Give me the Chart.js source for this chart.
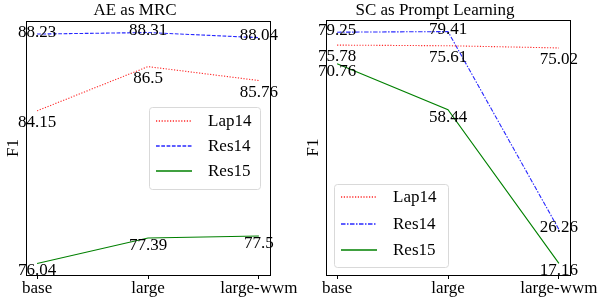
<!DOCTYPE html>
<html>
<head>
<meta charset="utf-8">
<script src="https://cdn.jsdelivr.net/npm/chart.js@4.4.0/dist/chart.umd.min.js"></script>
<style>
  body { margin: 0; background: #fff; }
  .wrap { display: flex; width: 601px; height: 302px; }
  .cell { position: relative; height: 302px; }
</style>
</head>
<body>
<div class="wrap">
  <div class="cell" style="width:300px"><canvas id="left"></canvas></div>
  <div class="cell" style="width:301px"><canvas id="right"></canvas></div>
</div>
<script>
"use strict";

const categories = ['base', 'large', 'large-wwm'];
const seriesNames = ['Lap14', 'Res14', 'Res15'];

// AE as MRC
const aeLap14 = [84.15, 86.5, 85.76];
const aeRes14 = [88.23, 88.31, 88.04];
const aeRes15 = [76.04, 77.39, 77.5];

// SC as Prompt Learning
const scLap14 = [75.78, 75.61, 75.02];
const scRes14 = [79.25, 79.41, 26.26];
const scRes15 = [70.76, 58.44, 17.16];

const FONT = '"Liberation Serif", "DejaVu Serif", serif';
const seriesColors = ['rgb(255,40,40)', 'rgb(40,40,255)', 'rgb(0,128,0)'];

// vertical pixel shift of the value labels, one per series
const labelShift = [11.5, -2, 7.5];

// line dashes per chart (Res14 is dashed on the left, dash-dot on the right)
const dashSets = {
    left: [[1.2, 1.6], [3.7, 1.6], []],
    right: [[1.2, 1.6], [4.5, 1.5, 1.5, 1.5], []]
};

const valueLabels = {
    id: 'valueLabels',
    afterDatasetsDraw(chart) {
        const ctx = chart.ctx;
        ctx.save();
        ctx.font = '17px ' + FONT;
        ctx.fillStyle = '#000';
        ctx.textAlign = 'center';
        ctx.textBaseline = 'middle';
        chart.data.datasets.forEach((ds, i) => {
            const meta = chart.getDatasetMeta(i);
            meta.data.forEach((pt, j) => {
                ctx.fillText(String(ds.data[j].y), pt.x, pt.y + labelShift[i]);
            });
        });
        ctx.restore();
    }
};

const frame = {
    id: 'frame',
    afterDraw(chart) {
        const a = chart.chartArea;
        const ctx = chart.ctx;
        ctx.save();
        ctx.strokeStyle = '#000';
        ctx.lineWidth = 1;
        ctx.strokeRect(Math.round(a.left) + 0.5, Math.round(a.top) + 0.5,
            Math.round(a.right - a.left), Math.round(a.bottom - a.top));
        ctx.restore();
    }
};

// matplotlib style legend box, drawn at a given spot in the chart area
const boxLegend = {
    id: 'boxLegend',
    afterDraw(chart, args, opts) {
        const ctx = chart.ctx;
        const a = chart.chartArea;
        const dashes = dashSets[chart.canvas.id];
        const x = Math.round(a.left + opts.x), y = Math.round(a.top + opts.y);
        const w = opts.w, h = opts.h;
        ctx.save();
        ctx.fillStyle = 'rgba(255,255,255,0.8)';
        ctx.strokeStyle = '#d9d9d9';
        ctx.lineWidth = 1;
        ctx.beginPath();
        ctx.roundRect(x + 0.5, y + 0.5, w, h, 3);
        ctx.fill();
        ctx.stroke();
        ctx.font = '17px ' + FONT;
        ctx.textBaseline = 'middle';
        chart.data.datasets.forEach((ds, i) => {
            const ly = Math.round(y + opts.first + i * opts.step);
            ctx.strokeStyle = seriesColors[i];
            ctx.lineWidth = 1.4;
            ctx.setLineDash(dashes[i]);
            ctx.beginPath();
            ctx.moveTo(x + 7, ly);
            ctx.lineTo(x + 43, ly);
            ctx.stroke();
            ctx.setLineDash([]);
            ctx.fillStyle = '#000';
            ctx.fillText(ds.label, x + 59, ly + 1);
        });
        ctx.restore();
    }
};

function makeChart(id, title, values, yMin, yMax, legend, padding) {
    const dashes = dashSets[id];
    new Chart(document.getElementById(id), {
        type: 'line',
        data: {
            datasets: values.map((vals, i) => ({
                label: seriesNames[i],
                data: vals.map((v, j) => ({ x: j, y: v })),
                borderColor: seriesColors[i],
                borderDash: dashes[i],
                borderWidth: 1.1,
                pointRadius: 0,
                fill: false,
                tension: 0
            }))
        },
        options: {
            responsive: true,
            maintainAspectRatio: false,
            animation: false,
            layout: { padding: padding },
            plugins: {
                legend: { display: false },
                tooltip: { enabled: false },
                title: {
                    display: true,
                    text: title,
                    color: '#000',
                    font: { family: FONT, size: 17, weight: 'normal', lineHeight: 1 },
                    padding: { top: 2, bottom: padding.titleGap }
                },
                boxLegend: legend
            },
            scales: {
                x: {
                    type: 'linear',
                    min: -0.1,
                    max: 2.1,
                    afterBuildTicks: scale => {
                        scale.ticks = categories.map((c, i) => ({ value: i }));
                    },
                    ticks: {
                        color: '#000',
                        padding: 1,
                        maxRotation: 0,
                        font: { family: FONT, size: 17, lineHeight: 1 },
                        callback: v => categories[v]
                    },
                    grid: {
                        display: true,
                        drawOnChartArea: false,
                        drawTicks: true,
                        tickLength: 4,
                        color: '#000'
                    },
                    border: { display: true, color: '#000' }
                },
                y: {
                    min: yMin,
                    max: yMax,
                    ticks: { display: false },
                    grid: { display: false, drawTicks: false },
                    border: { display: true, color: '#000' },
                    title: {
                        display: true,
                        text: 'F1',
                        color: '#000',
                        font: { family: FONT, size: 17, lineHeight: 1 },
                        padding: { top: 5, bottom: 4 }
                    }
                }
            }
        },
        plugins: [valueLabels, frame, boxLegend]
    });
}

makeChart('left', 'AE as MRC', [aeLap14, aeRes14, aeRes15],
    75.4265, 88.9235,
    { x: 123, y: 86, w: 111, h: 82, first: 14, step: 25 },
    { left: 0, right: 30, top: 0, bottom: 4, titleGap: 2 });

makeChart('right', 'SC as Prompt Learning', [scLap14, scRes14, scRes15],
    14.0475, 82.5225,
    { x: 8, y: 164, w: 114, h: 83, first: 13, step: 26.5 },
    { left: 0, right: 31, top: 0, bottom: 4, titleGap: 1 });
</script>
</body>
</html>
